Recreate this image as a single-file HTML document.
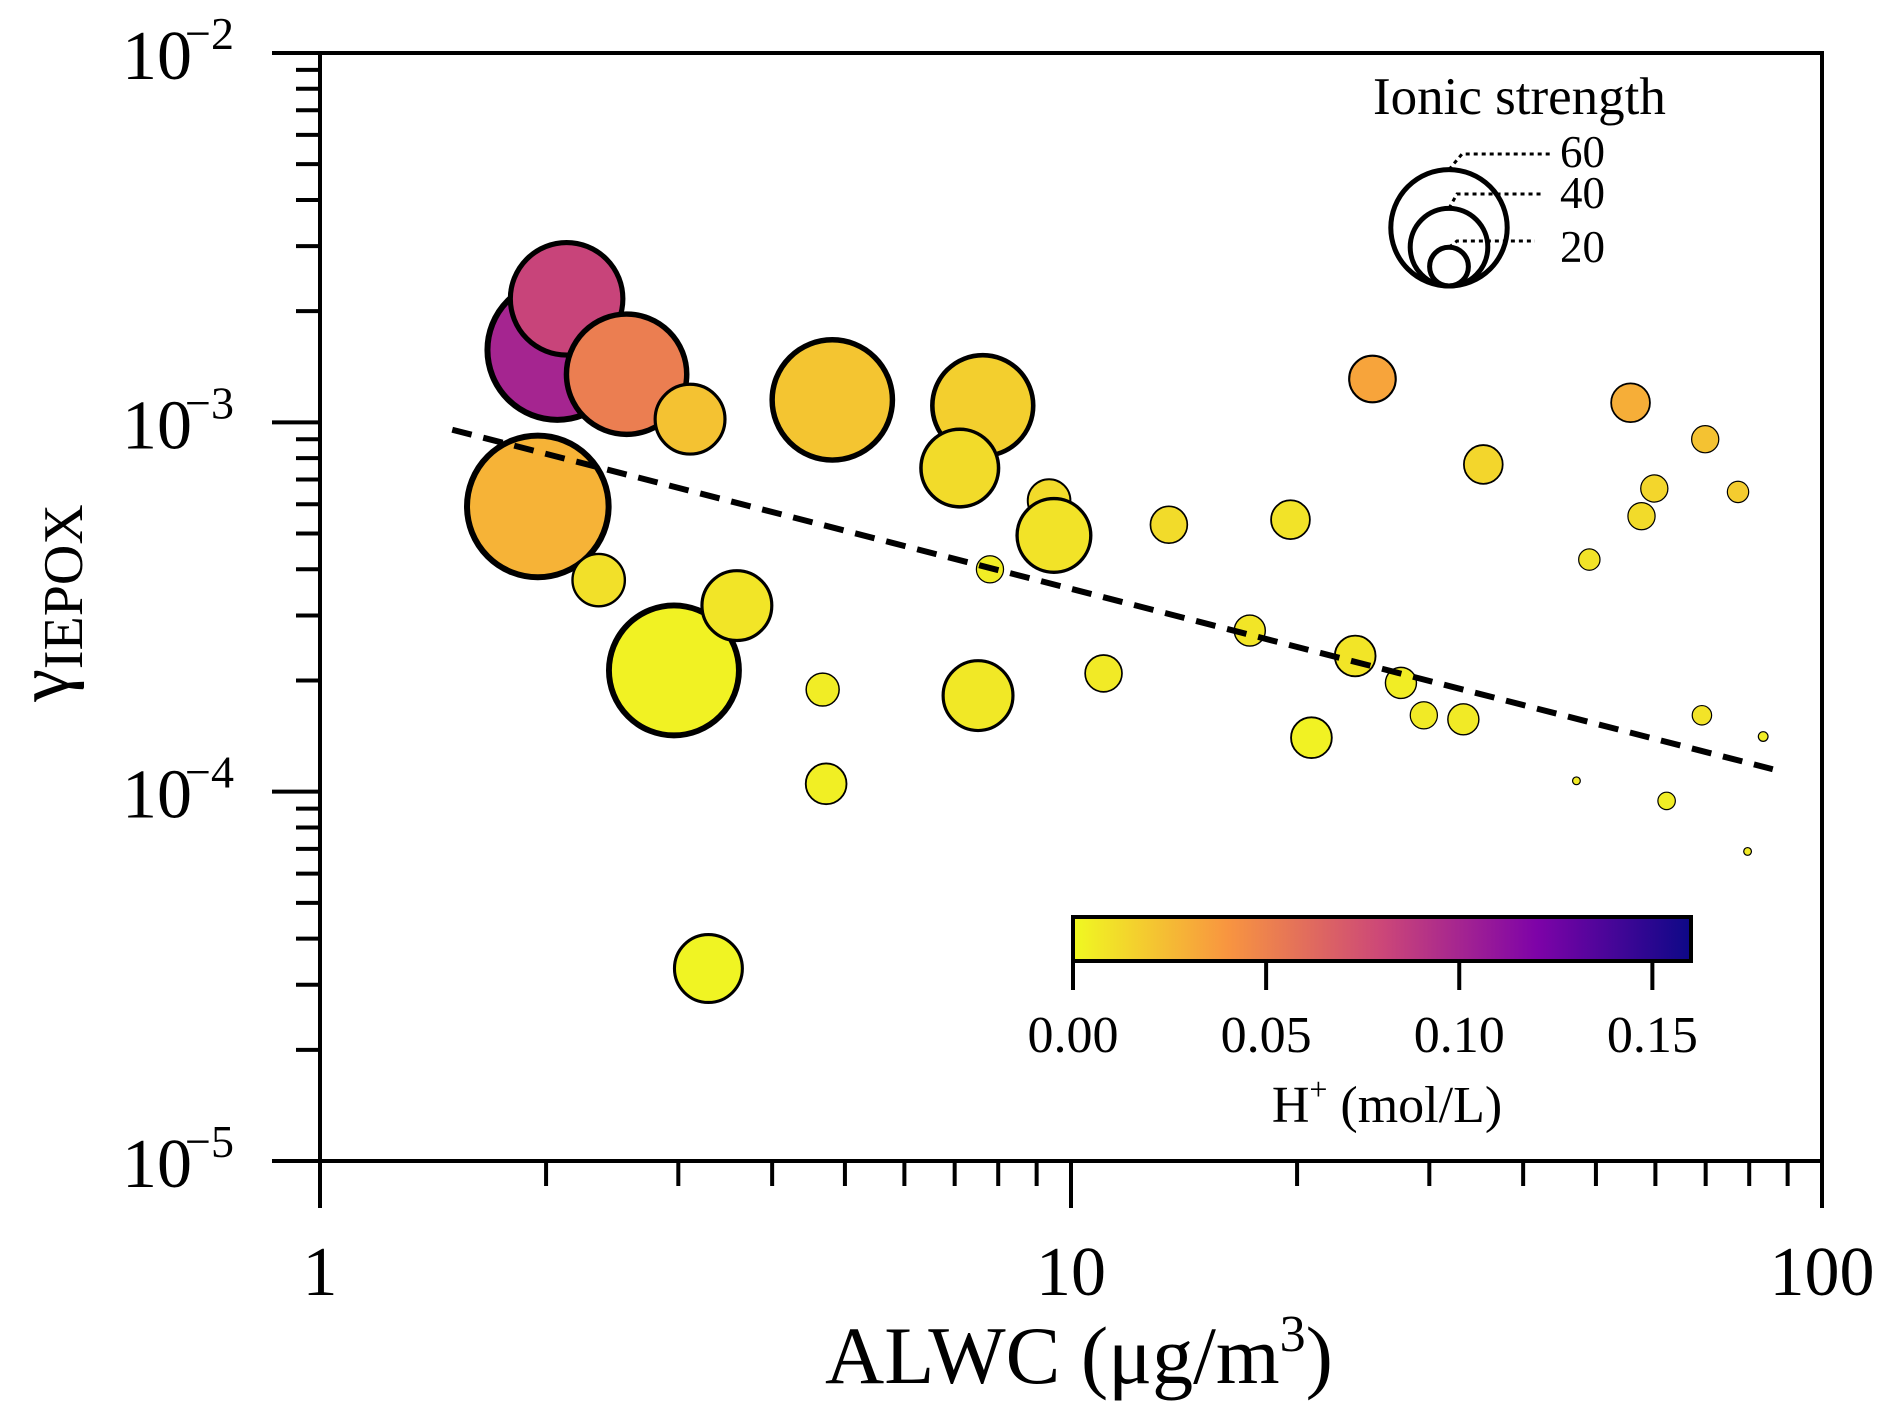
<!DOCTYPE html>
<html><head><meta charset="utf-8"><style>
html,body{margin:0;padding:0;background:#fff;}
svg{display:block;font-family:"Liberation Serif",serif;}
</style></head><body>
<svg id="chart" width="1892" height="1420" viewBox="0 0 1892 1420" xmlns="http://www.w3.org/2000/svg">
<defs>
<linearGradient id="cbar" x1="0" x2="1" y1="0" y2="0">
<stop offset="0" stop-color="#f0f921"/><stop offset="0.25" stop-color="#f89540"/><stop offset="0.5" stop-color="#cc4778"/><stop offset="0.75" stop-color="#7e03a8"/><stop offset="1" stop-color="#0d0887"/>
</linearGradient>
</defs>
<g id="marks"></g>
<g id="axes"></g>
</svg>
<script>
// data
const alwc = [2.07,2.13,2.56,3.11,1.95,2.35,2.96,3.59,4.81,7.63,7.11,9.35,9.49,7.80,4.67,4.72,7.52,3.29,11.05,13.5,19.6,25.2,35.4,17.3,20.9,23.9,27.5,29.5,33.3,55.6,69.9,59.8,57.5,77.3,49.0,69.2,83.5,47.1,62.1,79.6];
const gamma = [1.57e-3,2.16e-3,1.35e-3,1.02e-3,5.92e-4,3.74e-4,2.13e-4,3.19e-4,1.15e-3,1.11e-3,7.52e-4,6.14e-4,4.94e-4,4.0e-4,1.89e-4,1.05e-4,1.82e-4,3.32e-5,2.09e-4,5.28e-4,5.45e-4,1.31e-3,7.69e-4,2.73e-4,1.40e-4,2.33e-4,1.97e-4,1.61e-4,1.57e-4,1.13e-3,9.0e-4,6.62e-4,5.57e-4,6.48e-4,4.25e-4,1.61e-4,1.41e-4,1.07e-4,9.44e-5,6.89e-5];
const ionic = [72,58,62,36,73,27,67,36,62,52,40,22,38,14,17,21,36,35,19,19,20,24,20,16,21,21,16,14,16,20,14,14,14,11,11,10,5,4,9,4];
const hplus = [0.10,0.082,0.052,0.022,0.028,0.010,0.003,0.008,0.021,0.017,0.012,0.012,0.009,0.005,0.005,0.004,0.007,0.002,0.006,0.012,0.009,0.034,0.014,0.008,0.003,0.008,0.005,0.006,0.006,0.030,0.022,0.014,0.012,0.018,0.009,0.009,0.005,0.006,0.005,0.006];
const xTicks = [1,10,100];
const xTickLabels = ["1","10","100"];
const yTicks = [1e-5,1e-4,1e-3,1e-2];
const yTickExp = ["\u22125","\u22124","\u22123","\u22122"];
const cbTicks = [0,0.05,0.10,0.15];
const cbTickLabels = ["0.00","0.05","0.10","0.15"];
const legendIS = [60,40,20];
const fitX = [1.5,86];
const fitY = [9.55e-4,1.15e-4];

const NS="http://www.w3.org/2000/svg";
const L=320,R=1822,T=53,B=1161;
const xs=v=>L+(Math.log10(v)-0)*(R-L)/2;
const ys=v=>B-(Math.log10(v)+5)*(B-T)/3;
const rs=v=>v*0.97;
const cbL=1073,cbR=1691,cbMax=0.16;
const cbx=v=>cbL+v/cbMax*(cbR-cbL);
function mk(tag,attrs,parent){const e=document.createElementNS(NS,tag);for(const k in attrs)e.setAttribute(k,attrs[k]);parent.appendChild(e);return e;}
const stops=[[0,[240,249,33]],[0.25,[248,149,64]],[0.5,[204,71,120]],[0.75,[126,3,168]],[1,[13,8,135]]];
function cmap(h){let t=Math.max(0,Math.min(1,h/cbMax));for(let i=0;i<stops.length-1;i++){const a=stops[i],b=stops[i+1];if(t<=b[0]){const f=(t-a[0])/(b[0]-a[0]);const c=a[1].map((v,j)=>Math.round(v+(b[1][j]-v)*f));return`rgb(${c[0]},${c[1]},${c[2]})`;}}return"rgb(13,8,135)";}
const marks=document.getElementById('marks');
const axes=document.getElementById('axes');
for(let i=0;i<alwc.length;i++){
  const r=rs(ionic[i]);
  const c=mk('circle',{cx:xs(alwc[i]),cy:ys(gamma[i]),r:r,fill:cmap(hplus[i]),stroke:'#000','stroke-width':Math.max(1.2,Math.min(6,r/11))},marks);
  
  
}
// fit line
const fl=mk('line',{x1:xs(fitX[0]),y1:ys(fitY[0]),x2:xs(fitX[1]),y2:ys(fitY[1]),stroke:'#000','stroke-width':6,'stroke-dasharray':'20 12'},marks);


// frame
const fr=mk('rect',{x:L,y:T,width:R-L,height:B-T,fill:'none',stroke:'#000','stroke-width':4},axes);


// x ticks
for(let d=0;d<2;d++)for(let m=2;m<=9;m++){const x=xs(m*Math.pow(10,d));mk('line',{x1:x,y1:B,x2:x,y2:B+25,stroke:'#000','stroke-width':4},axes);}
xTicks.forEach((v,i)=>{const x=xs(v);mk('line',{x1:x,y1:B,x2:x,y2:B+47,stroke:'#000','stroke-width':4},axes);
  const t=mk('text',{x:x,y:1295,'font-size':70,'text-anchor':'middle'},axes);t.textContent=xTickLabels[i];
  
  });
// y ticks
for(let d=-5;d<-2;d++)for(let m=2;m<=9;m++){const y=ys(m*Math.pow(10,d));mk('line',{x1:L-24,y1:y,x2:L,y2:y,stroke:'#000','stroke-width':4},axes);}
yTicks.forEach((v,i)=>{const y=ys(v);mk('line',{x1:L-48,y1:y,x2:L,y2:y,stroke:'#000','stroke-width':4},axes);
  const t=mk('text',{x:122,y:y+26,'font-size':70},axes);t.textContent='10';
  
  
  const s=mk('text',{x:185,y:y-4,'font-size':46},axes);s.textContent=yTickExp[i];
  
  });
// colorbar
const cb=mk('rect',{x:cbL,y:917,width:cbR-cbL,height:44,fill:'url(#cbar)',stroke:'#000','stroke-width':4},axes);


cbTicks.forEach((v,i)=>{const x=cbx(v);mk('line',{x1:x,y1:961,x2:x,y2:990,stroke:'#000','stroke-width':4},axes);
  const t=mk('text',{x:x,y:1052,'font-size':52,'text-anchor':'middle'},axes);t.textContent=cbTickLabels[i];
  
  });
// size legend
const lcx=1449,lby=288;
const ldash=[[1462,154,1550],[1457,194,1541],[1457,241,1535]];
const lbly=[167,208,262];
legendIS.forEach((v,i)=>{const r=rs(v);
  const c=mk('circle',{cx:lcx,cy:lby-r-2,r:r,fill:'none',stroke:'#000','stroke-width':5},axes);
  
  
  const ty=lby-2*r-2;
  mk('polyline',{points:`${lcx},${ty} ${ldash[i][0]},${ldash[i][1]} ${ldash[i][2]},${ldash[i][1]}`,fill:'none',stroke:'#000','stroke-width':3,'stroke-dasharray':'4 4'},axes);
  const t=mk('text',{x:1560,y:lbly[i],'font-size':45},axes);t.textContent=String(v);
  
  });
</script>
<div style="position:absolute;left:0;top:0;width:1892px;height:1420px;pointer-events:none">
<svg width="1892" height="1420" style="position:absolute;left:0;top:0;font-family:'Liberation Serif',serif">
<text x="1373" y="114" font-size="53">Ionic strength</text>
<text x="1387" y="1122" font-size="52" text-anchor="middle">H<tspan dy="-22" font-size="32">+</tspan><tspan dy="22"> (mol/L)</tspan></text>
<text x="1079" y="1383" font-size="82" text-anchor="middle">ALWC (μg/m<tspan dy="-32" font-size="52">3</tspan><tspan dy="32">)</tspan></text>
<text transform="translate(68,603) rotate(-90)" font-size="74" text-anchor="middle">γ<tspan dy="14" font-size="56">IEPOX</tspan></text>
</svg></div>
</body></html>
